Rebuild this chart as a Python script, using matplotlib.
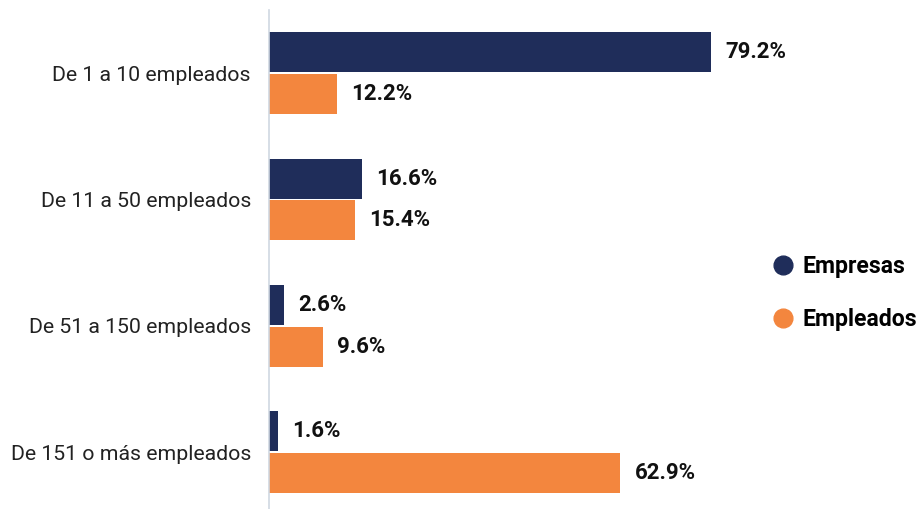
import numpy as np
import matplotlib.pyplot as plt
from matplotlib.lines import Line2D

plt.rcParams['font.family'] = ['Roboto', 'DejaVu Sans']

categorias = ["De 1 a 10 empleados", "De 11 a 50 empleados",
              "De 51 a 150 empleados", "De 151 o más empleados"]
empresas = [79.2, 16.6, 2.6, 1.6]
empleados = [12.2, 15.4, 9.6, 62.9]

color_emp = "#1f2d5a"
color_pl = "#f3863e"

fig = plt.figure(figsize=(9.18, 5.09), dpi=100)
ax = fig.add_axes([269 / 918, 0, (760 - 269) / 918, 499 / 509])

y = np.arange(len(categorias))
h = 0.315
off = 0.165
ax.barh(y - off, empresas, height=h, color=color_emp)
ax.barh(y + off, empleados, height=h, color=color_pl)

for i in range(len(categorias)):
    ax.text(empresas[i] + 2.6, y[i] - off, f"{empresas[i]:.1f}%", va="center",
            ha="left", fontsize=16, fontweight="bold", color="#111111")
    ax.text(empleados[i] + 2.6, y[i] + off, f"{empleados[i]:.1f}%", va="center",
            ha="left", fontsize=16, fontweight="bold", color="#111111")

ax.set_xlim(0, 88)
ax.set_ylim(3.45, -0.5)
ax.set_yticks(y)
ax.set_yticklabels(categorias, fontsize=15.3, color="#222222")
ax.tick_params(axis="y", length=0, pad=13)
ax.set_xticks([])
for s in ["top", "right", "bottom"]:
    ax.spines[s].set_visible(False)
ax.spines["left"].set_color("#d0d8e2")
ax.spines["left"].set_linewidth(1.2)

handles = [Line2D([], [], marker="o", linestyle="", markersize=13.5, color=color_emp),
           Line2D([], [], marker="o", linestyle="", markersize=13.5, color=color_pl)]
fig.legend(handles, ["Empresas", "Empleados"], loc="center left",
           bbox_to_anchor=(755 / 918, 1 - 293 / 509), frameon=False,
           prop={"size": 16.6, "weight": "bold"}, handletextpad=0.05,
           labelspacing=1.3, borderaxespad=0, handlelength=1.6)

fig.savefig("out.png", dpi=100)
